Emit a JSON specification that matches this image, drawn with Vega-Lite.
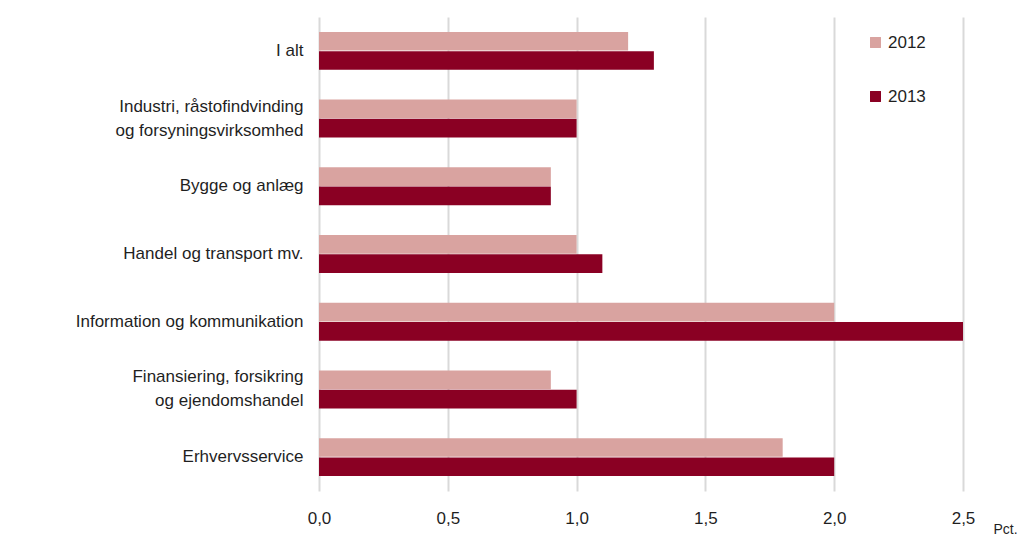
{
  "$schema": "https://vega.github.io/schema/vega-lite/v6.json",
  "width": 644,
  "height": 474,
  "autosize": {"type": "none"},
  "padding": {"left": 319, "top": 17, "right": 61, "bottom": 44},
  "background": "white",
  "data": {
    "values": [
      {"sektor": "I alt", "aar": "2012", "pct": 1.2},
      {"sektor": "I alt", "aar": "2013", "pct": 1.3},
      {"sektor": "Industri, råstofindvinding|og forsyningsvirksomhed", "aar": "2012", "pct": 1.0},
      {"sektor": "Industri, råstofindvinding|og forsyningsvirksomhed", "aar": "2013", "pct": 1.0},
      {"sektor": "Bygge og anlæg", "aar": "2012", "pct": 0.9},
      {"sektor": "Bygge og anlæg", "aar": "2013", "pct": 0.9},
      {"sektor": "Handel og transport mv.", "aar": "2012", "pct": 1.0},
      {"sektor": "Handel og transport mv.", "aar": "2013", "pct": 1.1},
      {"sektor": "Information og kommunikation", "aar": "2012", "pct": 2.0},
      {"sektor": "Information og kommunikation", "aar": "2013", "pct": 2.5},
      {"sektor": "Finansiering, forsikring|og ejendomshandel", "aar": "2012", "pct": 0.9},
      {"sektor": "Finansiering, forsikring|og ejendomshandel", "aar": "2013", "pct": 1.0},
      {"sektor": "Erhvervsservice", "aar": "2012", "pct": 1.8},
      {"sektor": "Erhvervsservice", "aar": "2013", "pct": 2.0}
    ]
  },
  "mark": {"type": "bar"},
  "encoding": {
    "y": {
      "field": "sektor",
      "type": "nominal",
      "sort": null,
      "scale": {"paddingInner": 0.44, "paddingOuter": 0.22},
      "axis": {
        "title": null,
        "domain": false,
        "ticks": false,
        "labelPadding": 16,
        "labelExpr": "split(datum.label, '|')",
        "labelLineHeight": 24,
        "labelOffset": {"condition": {"test": "indexof(datum.label, '|') >= 0", "value": -12}, "value": 0},
        "labelFontSize": 17,
        "labelLimit": 320
      }
    },
    "yOffset": {
      "field": "aar",
      "type": "nominal",
      "scale": {"paddingInner": 0.03}
    },
    "x": {
      "field": "pct",
      "type": "quantitative",
      "scale": {"domain": [0, 2.5], "nice": false},
      "axis": {
        "values": [0, 0.5, 1, 1.5, 2, 2.5],
        "labelExpr": "replace(format(datum.value, '.1f'), '.', ',')",
        "labelFlush": false,
        "domain": false,
        "ticks": false,
        "grid": true,
        "gridColor": "#d9d9d9",
        "gridWidth": 2,
        "labelPadding": 19,
        "labelFontSize": 17,
        "title": "Pct.",
        "titleFontSize": 14,
        "titleFontWeight": "normal",
        "titleX": 686,
        "titleY": 42,
        "titleAnchor": null,
        "titleAlign": "center",
        "titleBaseline": "alphabetic"
      }
    },
    "color": {
      "field": "aar",
      "type": "nominal",
      "scale": {"domain": ["2012", "2013"], "range": ["#d9a3a0", "#8a0023"]},
      "legend": {
        "title": null,
        "orient": "none",
        "legendX": 548,
        "legendY": 17,
        "symbolType": "square",
        "symbolSize": 120,
        "symbolStrokeWidth": 0,
        "labelFontSize": 17,
        "labelOffset": 4,
        "rowPadding": 36
      }
    }
  },
  "config": {
    "font": "Liberation Sans",
    "view": {"stroke": null},
    "axis": {"labelColor": "#1f1f1f", "titleColor": "#1f1f1f", "labelFont": "Liberation Sans", "titleFont": "Liberation Sans"},
    "legend": {"labelColor": "#1f1f1f", "labelFont": "Liberation Sans"}
  }
}
